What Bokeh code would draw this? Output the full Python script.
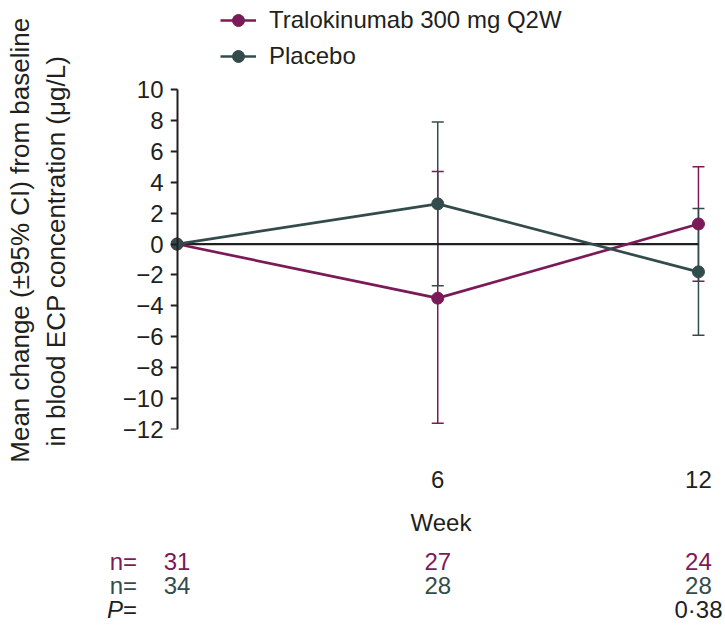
from bokeh.plotting import figure
from bokeh.models import (ColumnDataSource, Whisker, TeeHead, Legend, LegendItem,
                          FixedTicker, Range1d, LinearAxis)
from bokeh.layouts import column
from bokeh.embed import file_html
from bokeh.resources import INLINE
from bokeh.core.properties import value

# ---- data ----
weeks = [0, 6, 12]
tralo_mean = [0.0, -3.5, 1.3]
tralo_lower = [0.0, -11.6, -2.4]
tralo_upper = [0.0, 4.7, 5.0]
placebo_mean = [0.0, 2.6, -1.8]
placebo_lower = [0.0, -2.7, -5.9]
placebo_upper = [0.0, 7.9, 2.3]
n_tralo = [31, 27, 24]
n_placebo = [34, 28, 28]
p_values = ["", "", "0·38"]
y_ticks = list(range(-12, 11, 2))
x_ticks = [6, 12]
series_labels = ["Tralokinumab 300 mg Q2W", "Placebo"]
y_label_lines = ["Mean change (±95% CI) from baseline", "in blood ECP concentration (μg/L)"]

# ---- style ----
FONT = "Liberation Sans"
TXT = "#231f20"
PURPLE = "#7b1a57"
SLATE = "#344b4b"
FS = "24px"
NB = "\u00a0"

W = 725
X_START, X_END = -0.15, 12.3
MB_LEFT, MB_RIGHT = 170, 14
AXIS_TOP_PX, AXIS_H, MB_BOTTOM = 89, 340, 111    # axis from 10 down to -12
H_MAIN = AXIS_TOP_PX + AXIS_H + MB_BOTTOM
H_TABLE = 78
frame_w = W - MB_LEFT - MB_RIGHT
pxw = frame_w / (X_END - X_START)
y_lo, y_hi = y_ticks[0], y_ticks[-1]
y_top = y_hi + AXIS_TOP_PX * (y_hi - y_lo) / AXIS_H   # frame extends up to hold legend

p = figure(width=W, height=H_MAIN, x_range=Range1d(X_START, X_END),
           y_range=Range1d(y_lo, y_top),
           output_backend="svg", toolbar_location=None,
           min_border_left=MB_LEFT, min_border_right=MB_RIGHT,
           min_border_top=0, min_border_bottom=MB_BOTTOM)
p.frame_align = False
p.outline_line_color = None
p.xgrid.visible = False
p.ygrid.visible = False
p.background_fill_color = "white"
p.border_fill_color = "white"

# labelled y axis (labels + title only)
ya = p.yaxis[0]
ya.bounds = (y_lo, y_hi)
ya.ticker = FixedTicker(ticks=y_ticks)
ya.major_label_overrides = {t: str(t).replace("-", "\u2212") for t in y_ticks}
ya.axis_line_color = None
ya.major_tick_line_color = None
ya.major_tick_out = 0
ya.major_tick_in = 0
ya.minor_tick_line_color = None
ya.major_label_standoff = 7
ya.major_label_text_font = FONT
ya.major_label_text_font_size = FS
ya.major_label_text_color = TXT
# trailing no-break spaces lower the label to centre it on the drawn axis
ya.axis_label = y_label_lines[0] + NB * 7 + "\n" + y_label_lines[1] + NB * 10
ya.axis_label_text_font = FONT
ya.axis_label_text_font_size = "26px"
ya.axis_label_text_font_style = "normal"
ya.axis_label_text_color = TXT
ya.axis_label_standoff = 49

# axis line + ticks drawn at week 0
yb = LinearAxis(fixed_location=0, bounds=(y_lo, y_hi), ticker=FixedTicker(ticks=y_ticks),
                axis_line_color=TXT, axis_line_width=2,
                major_tick_line_color=TXT, major_tick_line_width=2,
                major_tick_in=7, major_tick_out=0, minor_tick_line_color=None,
                major_label_overrides={t: "" for t in y_ticks},
                major_label_text_color=None, major_label_standoff=0)
p.add_layout(yb, "right")

xa = p.xaxis[0]
xa.ticker = FixedTicker(ticks=x_ticks)
xa.axis_line_color = None
xa.major_tick_line_color = None
xa.minor_tick_line_color = None
xa.major_label_standoff = 35
xa.major_label_text_font = FONT
xa.major_label_text_font_size = FS
xa.major_label_text_color = TXT
xa.axis_label = "Week"
xa.axis_label_text_font = FONT
xa.axis_label_text_font_size = FS
xa.axis_label_text_font_style = "normal"
xa.axis_label_text_color = TXT
xa.axis_label_standoff = 18

# zero reference line
p.line(x=[weeks[0], weeks[-1]], y=[0, 0], line_color=TXT, line_width=2.2)

for lo, hi, col in [(tralo_lower, tralo_upper, PURPLE),
                    (placebo_lower, placebo_upper, SLATE)]:
    wsrc = ColumnDataSource(dict(x=weeks[1:], lo=lo[1:], hi=hi[1:]))
    w = Whisker(base="x", lower="lo", upper="hi", source=wsrc,
                line_color=col, line_width=1.5,
                upper_head=TeeHead(size=12, line_color=col, line_width=1.5),
                lower_head=TeeHead(size=12, line_color=col, line_width=1.5))
    p.add_layout(w)

renderers = []
for mean, col in [(tralo_mean, PURPLE), (placebo_mean, SLATE)]:
    src = ColumnDataSource(dict(x=weeks, y=mean))
    l = p.line("x", "y", source=src, line_color=col, line_width=2.7)
    renderers.append([l])
for i, (mean, col) in enumerate([(tralo_mean, PURPLE), (placebo_mean, SLATE)]):
    src = ColumnDataSource(dict(x=weeks, y=mean))
    s = p.scatter("x", "y", source=src, size=12, marker="circle",
                  fill_color=col, line_color=col)
    renderers[i].append(s)

legend = Legend(items=[LegendItem(label=series_labels[0], renderers=renderers[0]),
                       LegendItem(label=series_labels[1], renderers=renderers[1])],
                location=(50, 358), orientation="vertical",
                border_line_color=None, background_fill_alpha=0,
                padding=0, margin=0, spacing=6,
                glyph_width=36, glyph_height=30, label_height=30,
                label_standoff=13, label_text_font=FONT,
                label_text_font_size=FS, label_text_color=TXT,
                label_text_baseline="middle")
p.add_layout(legend)

# ---- table of n and P ----
tx_start = X_START - MB_LEFT / pxw
tx_end = X_END + MB_RIGHT / pxw
row_top_px, row_pitch = 21, 24
t = figure(width=W, height=H_TABLE, x_range=Range1d(tx_start, tx_end),
           y_range=Range1d((H_TABLE - row_top_px) / row_pitch,
                           -row_top_px / row_pitch),
           output_backend="svg", toolbar_location=None,
           min_border_left=0, min_border_right=0, min_border_top=0, min_border_bottom=0)
t.frame_align = False
t.axis.visible = False
t.grid.visible = False
t.outline_line_color = None
t.background_fill_color = "white"
t.border_fill_color = "white"

def txt(src, color, align="center", xoff=0, style="normal"):
    t.text(x="x", y="y", text="text", source=src, text_color=color,
           text_font=value(FONT), text_font_size=value(FS),
           text_align=align, text_baseline="middle", x_offset=xoff,
           text_font_style=style)

txt(ColumnDataSource(dict(x=weeks, y=[0] * 3, text=[str(v) for v in n_tralo])), PURPLE)
txt(ColumnDataSource(dict(x=weeks, y=[1] * 3, text=[str(v) for v in n_placebo])), SLATE)
txt(ColumnDataSource(dict(x=weeks, y=[2] * 3, text=p_values)), TXT)
txt(ColumnDataSource(dict(x=[weeks[0]], y=[0], text=["n="])), PURPLE, align="right", xoff=-40)
txt(ColumnDataSource(dict(x=[weeks[0]], y=[1], text=["n="])), SLATE, align="right", xoff=-40)
txt(ColumnDataSource(dict(x=[weeks[0]], y=[2], text=["P"])), TXT, align="right", xoff=-54, style="italic")
txt(ColumnDataSource(dict(x=[weeks[0]], y=[2], text=["="])), TXT, align="right", xoff=-40)

layout = column(p, t, spacing=0)
open("out.html", "w").write(file_html(layout, INLINE))
